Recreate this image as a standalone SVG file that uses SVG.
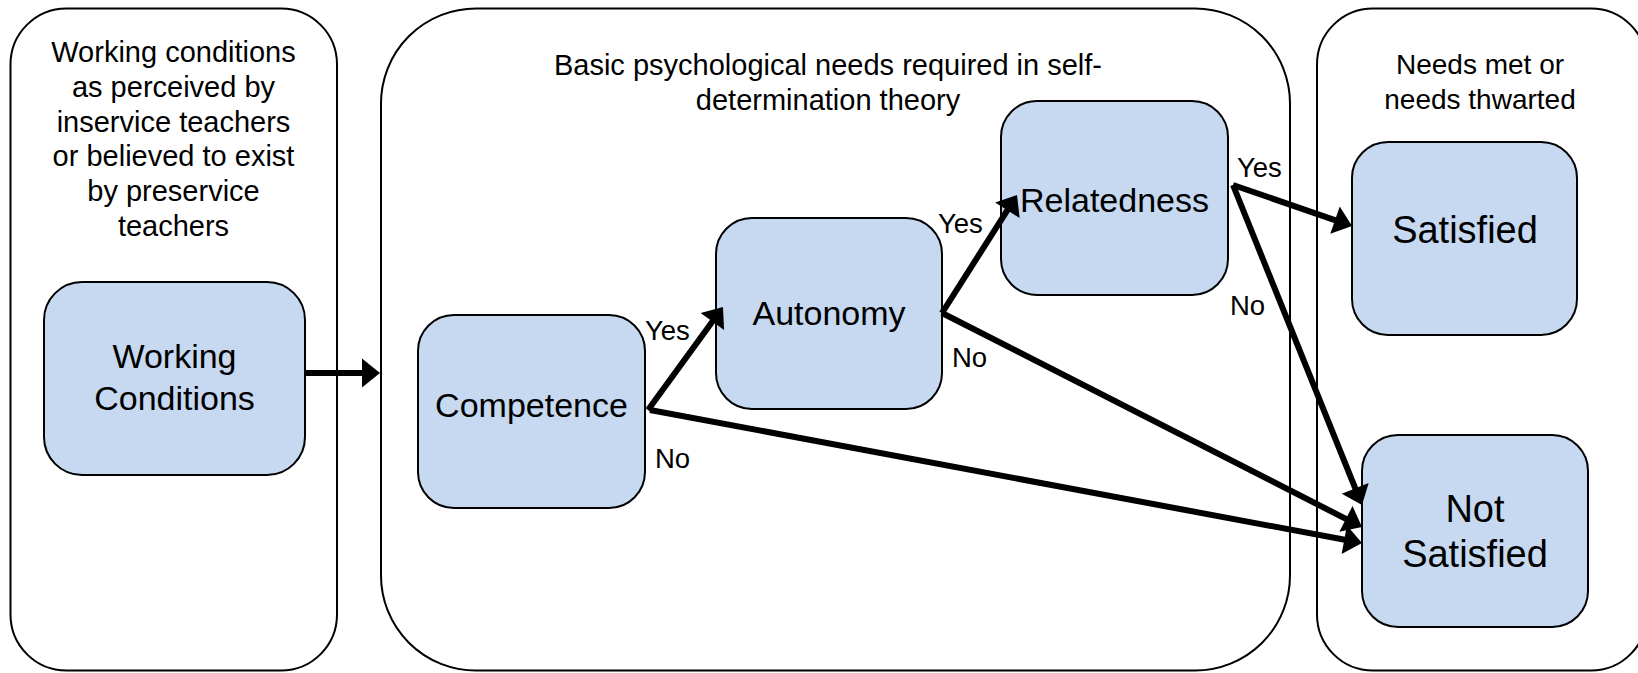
<svg xmlns="http://www.w3.org/2000/svg" width="1638" height="673" viewBox="0 0 1638 673">
<style>
.panel{fill:#ffffff;stroke:#000000;stroke-width:2}
.box{fill:#c6d9f1;stroke:#000000;stroke-width:2}
.head{font-family:"Liberation Sans",Arial,sans-serif;font-size:29px;fill:#000;text-anchor:middle}
.bt{font-family:"Liberation Sans",Arial,sans-serif;font-size:34px;fill:#000;text-anchor:middle}
.bt2{font-family:"Liberation Sans",Arial,sans-serif;font-size:38px;fill:#000;text-anchor:middle}
.lab{font-family:"Liberation Sans",Arial,sans-serif;font-size:27.5px;fill:#000}
.conn line{stroke:#000;stroke-width:6;marker-end:url(#ah)}
</style>
<defs>
<marker id="ah" markerUnits="userSpaceOnUse" markerWidth="20" markerHeight="30" refX="6" refY="14.5" orient="auto" overflow="visible">
<path d="M0,0 L18,14.5 L0,29 Z" fill="#000"/>
</marker>
</defs>
<rect width="1638" height="673" fill="#ffffff"/>
<g id="panel-working">
<rect class="panel" x="10.5" y="8.5" width="326.5" height="662" rx="56" ry="56"/>
<text class="head" x="173.5" y="62">Working conditions</text>
<text class="head" x="173.5" y="97">as perceived by</text>
<text class="head" x="173.5" y="132">inservice teachers</text>
<text class="head" x="173.5" y="166">or believed to exist</text>
<text class="head" x="173.5" y="201">by preservice</text>
<text class="head" x="173.5" y="236">teachers</text>
</g>
<g id="panel-needs">
<rect class="panel" x="381" y="8.5" width="909" height="662" rx="95" ry="95"/>
<text class="head" x="828" y="75">Basic psychological needs required in self-</text>
<text class="head" x="828" y="110">determination theory</text>
</g>
<g id="panel-outcome">
<rect class="panel" x="1317" y="8.5" width="330" height="662" rx="56" ry="56"/>
<text class="head" x="1480" y="74" style="font-size:28px">Needs met or</text>
<text class="head" x="1480" y="109" style="font-size:28px">needs thwarted</text>
</g>
<g id="node-working-conditions">
<rect class="box" x="44" y="282" width="261" height="193" rx="38" ry="38"/>
<text class="bt" x="174.5" y="368">Working</text>
<text class="bt" x="174.5" y="410">Conditions</text>
</g>
<g id="node-competence">
<rect class="box" x="418" y="315" width="227" height="193" rx="36" ry="36"/>
<text class="bt" x="531.5" y="417">Competence</text>
</g>
<g id="node-autonomy">
<rect class="box" x="716" y="218" width="226" height="191" rx="36" ry="36"/>
<text class="bt" x="829" y="325">Autonomy</text>
</g>
<g id="node-relatedness">
<rect class="box" x="1001" y="101" width="227" height="194" rx="36" ry="36"/>
<text class="bt" x="1114.5" y="212">Relatedness</text>
</g>
<g id="node-satisfied">
<rect class="box" x="1352" y="142" width="225" height="193" rx="36" ry="36"/>
<text class="bt2" x="1465" y="243">Satisfied</text>
</g>
<g id="node-not-satisfied">
<rect class="box" x="1362" y="435" width="226" height="192" rx="36" ry="36"/>
<text class="bt2" x="1475" y="522">Not</text>
<text class="bt2" x="1475" y="567">Satisfied</text>
</g>
<g id="connectors" class="conn">
<line x1="305" y1="373" x2="368" y2="373"/>
<line x1="648" y1="410" x2="715.9" y2="316.7"/>
<line x1="650" y1="410" x2="1350.2" y2="540.8"/>
<line x1="942" y1="313" x2="1010.6" y2="205.1"/>
<line x1="942" y1="313" x2="1351.3" y2="521.6"/>
<line x1="1233" y1="185" x2="1340.7" y2="222.1"/>
<line x1="1233" y1="185" x2="1357.5" y2="493.9"/>
</g>
<g id="labels">
<text class="lab" x="645" y="340">Yes</text>
<text class="lab" x="655" y="468">No</text>
<text class="lab" x="938" y="233">Yes</text>
<text class="lab" x="952" y="367">No</text>
<text class="lab" x="1237" y="177">Yes</text>
<text class="lab" x="1230" y="315">No</text>
</g>
</svg>
